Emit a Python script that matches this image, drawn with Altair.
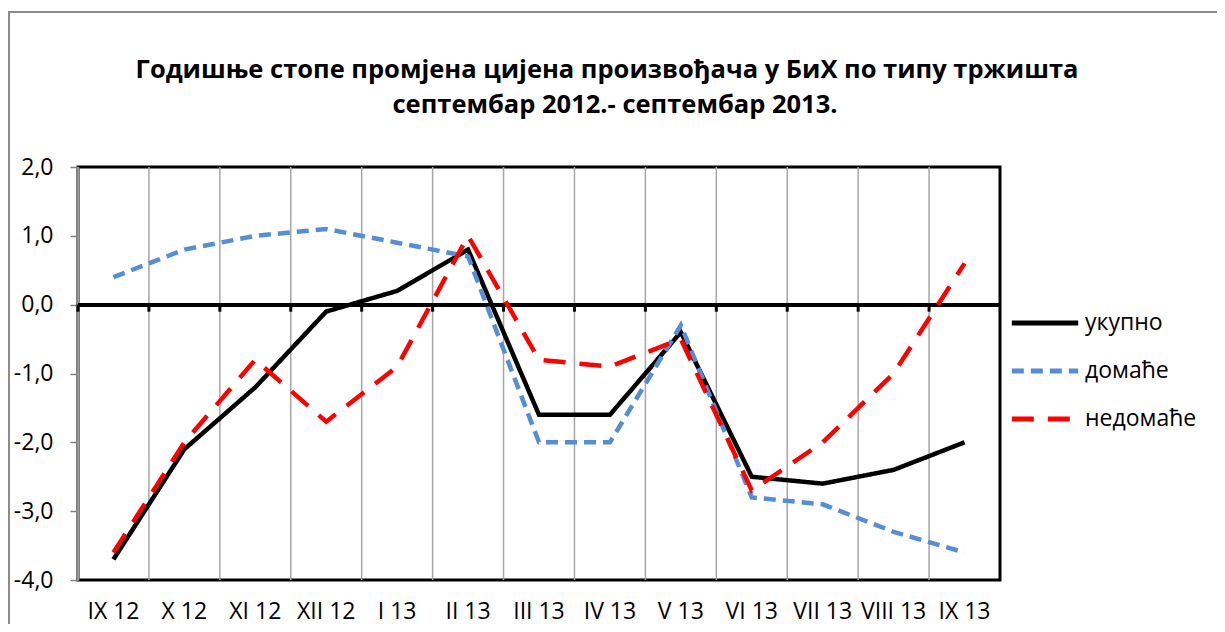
import altair as alt
import pandas as pd

months = ["IX 12", "X 12", "XI 12", "XII 12", "I 13", "II 13", "III 13",
          "IV 13", "V 13", "VI 13", "VII 13", "VIII 13", "IX 13"]
ukupno = [-3.7, -2.1, -1.2, -0.1, 0.2, 0.8, -1.6, -1.6, -0.4, -2.5, -2.6, -2.4, -2.0]
domace = [0.4, 0.8, 1.0, 1.1, 0.9, 0.7, -2.0, -2.0, -0.3, -2.8, -2.9, -3.3, -3.6]
nedomace = [-3.6, -2.0, -0.8, -1.7, -0.9, 1.0, -0.8, -0.9, -0.5, -2.7, -2.0, -1.0, 0.6]
series = ["укупно", "домаће", "недомаће"]
colors = ["#000000", "#558ED5", "#FF0000"]
dashes = [[1, 0], [12, 7], [22, 14]]
title_lines = ["Годишње стопе промјена цијена произвођача у БиХ по типу тржишта",
               "септембар 2012.- септембар 2013."]

rows = []
for name, vals in zip(series, [ukupno, domace, nedomace]):
    for m, v in zip(months, vals):
        rows.append({"m": m, "v": v, "s": name, "o": series.index(name)})
df = pd.DataFrame(rows)
cats = pd.DataFrame({"m": months})
one = pd.DataFrame({"a": [0]})

W, H = 922, 413
FONT = "Open Sans"
LFS = 23

xs = alt.Scale(domain=months, paddingInner=0, paddingOuter=0)
ys = alt.Scale(domain=[-4, 2], nice=False)
xa = alt.Axis(labelAngle=0, ticks=False, grid=False, domain=False,
              labelPadding=20, labelFontSize=LFS, labelFont=FONT,
              labelColor="black", title=None)

border = alt.Chart(one).mark_rect(fill=None, stroke="#8C8C8C", strokeWidth=2).encode(
    x=alt.value(-69), x2=alt.value(W + 300), y=alt.value(-155), y2=alt.value(H + 200))

title1 = alt.Chart(one).mark_text(text=title_lines[0], font=FONT, fontSize=25.5,
                                  fontWeight="bold", color="black").encode(
    x=alt.value(529), y=alt.value(-97))
title2 = alt.Chart(one).mark_text(text=title_lines[1], font=FONT, fontSize=25.5,
                                  fontWeight="bold", color="black").encode(
    x=alt.value(537), y=alt.value(-62))

grid = alt.Chart(cats).mark_rule(color="#A6A6A6", strokeWidth=1.5).encode(
    x=alt.X("m:N", bandPosition=0, scale=xs, sort=months, axis=xa)
)

zero = alt.Chart(cats).mark_rule(color="black", strokeWidth=3).encode(y=alt.datum(0, scale=ys))

zticks = alt.Chart(cats).mark_rule(color="black", strokeWidth=3, y2Offset=7).encode(
    x=alt.X("m:N", bandPosition=0, scale=xs, sort=months, axis=xa),
    y=alt.datum(0, scale=ys),
    y2=alt.datum(0),
)

lines = alt.Chart(df).mark_line(strokeWidth=4.5).encode(
    x=alt.X("m:N", scale=xs, sort=months, axis=xa),
    y=alt.Y("v:Q", scale=ys, title=None,
            axis=alt.Axis(values=[-4, -3, -2, -1, 0, 1, 2], grid=False,
                          domainColor="#808080", domainWidth=2, tickColor="#808080",
                          tickWidth=1.5, tickSize=8, labelPadding=17,
                          labelFontSize=LFS, labelFont=FONT, labelColor="black",
                          labelExpr="replace(replace(format(datum.value, '.1f'), '.', ','), '−', '-')")),
    color=alt.Color("s:N", scale=alt.Scale(domain=series, range=colors),
                    legend=alt.Legend(title=None, orient="none", legendX=931, legendY=120,
                                      symbolType="stroke", symbolSize=4400,
                                      symbolStrokeWidth=5, labelFontSize=LFS,
                                      labelFont=FONT, labelColor="black",
                                      rowPadding=-1, labelOffset=4)),
    strokeDash=alt.StrokeDash("s:N", scale=alt.Scale(domain=series, range=dashes), legend=None),
    order="o:Q",
    detail="s:N",
)

chart = alt.layer(border, title1, title2, grid, zero, zticks, lines).properties(
    width=W, height=H,
    autosize=alt.AutoSizeParams(type="none"),
    padding={"left": 70, "top": 159, "right": 217, "bottom": 44},
).configure_view(stroke="black", strokeWidth=3)

chart.save("out.html", embed_options={"renderer": "svg", "actions": False})
